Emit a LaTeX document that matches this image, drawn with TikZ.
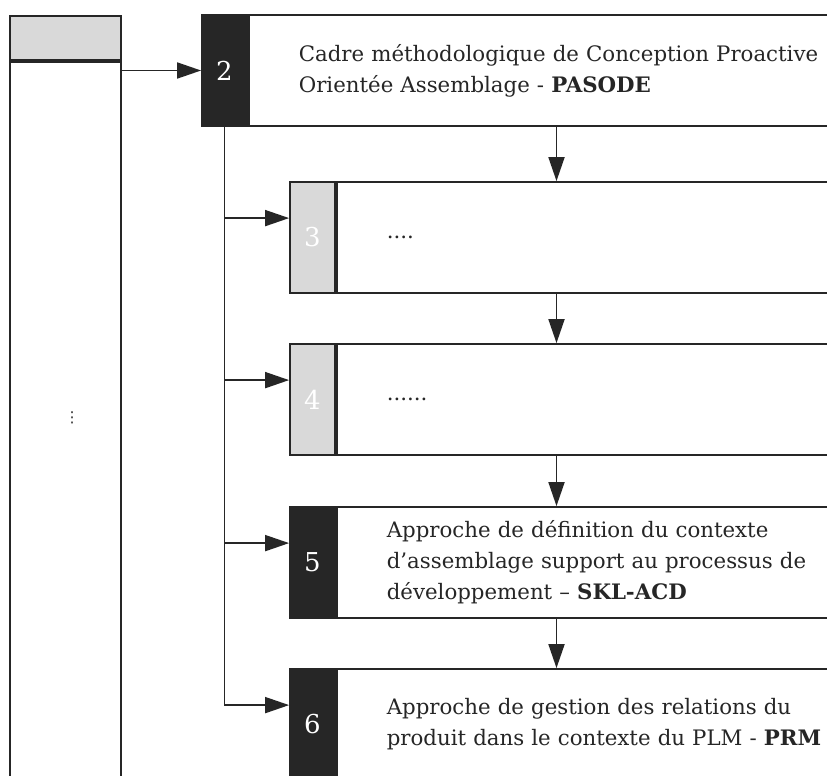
\documentclass[tikz,border=0pt]{standalone}
\usepackage{fontspec}
\setmainfont{DejaVu Serif}
\newfontfamily\dotsfont{DejaVu Sans}
\usepackage{tikz}
\usetikzlibrary{arrows.meta, positioning}
\definecolor{inkdark}{HTML}{262626}
\definecolor{tabgray}{HTML}{D9D9D9}

\begin{document}
\begin{tikzpicture}[
      x=1pt, y=-1pt,
      line width=1.8pt, draw=inkdark,
      every node/.style={font=\fontsize{21.3}{31}\selectfont, text=inkdark},
      tabdark/.style={rectangle, draw, fill=inkdark, text=white, font=\fontsize{26}{26}\selectfont, minimum width=45pt, minimum height=111pt, inner sep=0pt},
      tablight/.style={tabdark, fill=tabgray},
      txtbox/.style={rectangle, draw, fill=white, minimum height=111pt, text width=600pt, inner xsep=50pt, align=left},
      arr/.style={-{Triangle[length=24pt, width=16pt]}, inkdark}
    ]
      \clip (0,0) rectangle (827,776);
      \fill[white] (0,0) rectangle (827,776);
      % left column
      \node[draw, fill=tabgray, minimum width=111pt, minimum height=44pt, inner sep=0pt] (head) at (65.5,38) {};
      \node[draw, anchor=north, minimum width=111pt, minimum height=760pt, inner sep=0pt] (col) at (head.south) {};
      \node[font=\dotsfont\fontsize{15}{15}\selectfont] (dots) at (72,418) {⋮};
      % chapters
      \node[tabdark] (t2) at (224.5,70.5) {2};
      \node[txtbox, right=0pt of t2] (b2) {Cadre méthodologique de Conception Proactive\\Orientée Assemblage - \textbf{PASODE}};
      \node[tablight] (t3) at (312.5,237.5) {3};
      \node[txtbox, right=0pt of t3] (b3) {....};
      \node[tablight] (t4) at (312.5,399.5) {4};
      \node[txtbox, right=0pt of t4] (b4) {......};
      \node[tabdark] (t5) at (312.5,562.5) {5};
      \node[txtbox, right=0pt of t5] (b5) {Approche de définition du contexte\\d’assemblage support au processus de\\développement – \textbf{SKL-ACD}};
      \node[tabdark] (t6) at (312.5,724.5) {6};
      \node[txtbox, right=0pt of t6] (b6) {Approche de gestion des relations du\\produit dans le contexte du PLM - \textbf{PRM}};
      % arrows
      \coordinate (down) at (556.5,0);
      \draw[arr] (col.east |- t2.west) -- (t2.west);
      \foreach \a/\b in {b2/b3, b3/b4, b4/b5, b5/b6}
        \draw[arr] (\a.south -| down) -- (\b.north -| down);
      \foreach \n in {3,4,5,6}
        \coordinate (in\n) at ([yshift=-37pt]t\n.north west);
      \draw[arr] (t2.south) |- (in6);
      \foreach \n in {3,4,5}
        \draw[arr] (t2.south |- in\n) -- (in\n);
    \end{tikzpicture}
\end{document}
